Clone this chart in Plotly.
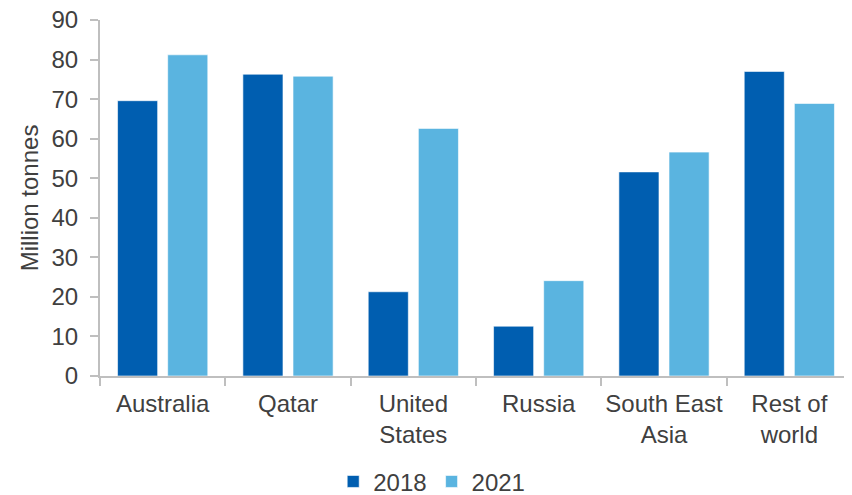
import plotly.graph_objects as go

categories = ["Australia", "Qatar", "United<br>States", "Russia", "South East<br>Asia", "Rest of<br>world"]
values_2018 = [69.6, 76.3, 21.3, 12.6, 51.6, 77.0]
values_2021 = [81.2, 75.8, 62.6, 24.1, 56.6, 68.9]
y_ticks = [0, 10, 20, 30, 40, 50, 60, 70, 80, 90]

font_family = "Liberation Sans, Arial, sans-serif"
text_color = "#404040"
fs = 24

fig = go.Figure()
fig.add_trace(go.Bar(
    name="2018", x=categories, y=values_2018,
    marker=dict(color="#005EB0", line=dict(color="rgba(255,255,255,0.6)", width=1)),
))
fig.add_trace(go.Bar(
    name="2021", x=categories, y=values_2021,
    marker=dict(color="#5AB4E0", line=dict(color="rgba(255,255,255,0.6)", width=1)),
))

# The page body has an 8px margin, so the figure is sized 8px smaller each way
fig.update_layout(
    width=844, height=487,
    margin=dict(l=92, r=0, t=12, b=119, autoexpand=False),
    paper_bgcolor="white", plot_bgcolor="white",
    barmode="group", bargap=0.2, bargroupgap=0.2,
    font=dict(family=font_family, size=fs, color=text_color),
    showlegend=True,
    legend=dict(
        orientation="h", xref="container", yref="container",
        x=0.502, xanchor="center", y=0.027, yanchor="middle",
        font=dict(size=fs, color=text_color),
        itemwidth=30, traceorder="normal",
    ),
    xaxis=dict(
        automargin=False, tickangle=0,
        showline=True, linecolor="#BFBFBF", linewidth=2,
        ticks="outside", tickson="boundaries", ticklen=8, tickcolor="#BFBFBF", tickwidth=2,
        ticklabelstandoff=5,
        showgrid=False, tickfont=dict(size=fs, color=text_color),
    ),
    yaxis=dict(
        automargin=False,
        range=[0, 90], tickvals=y_ticks,
        showline=True, linecolor="#BFBFBF", linewidth=2,
        ticks="outside", ticklen=8, tickcolor="#BFBFBF", tickwidth=2,
        ticklabelstandoff=7, ticklabeloverflow="allow",
        showgrid=False, zeroline=False,
        tickfont=dict(size=fs, color=text_color),
        title=dict(text="Million tonnes", font=dict(size=fs, color=text_color), standoff=6),
    ),
)

fig.write_html("out.html")
